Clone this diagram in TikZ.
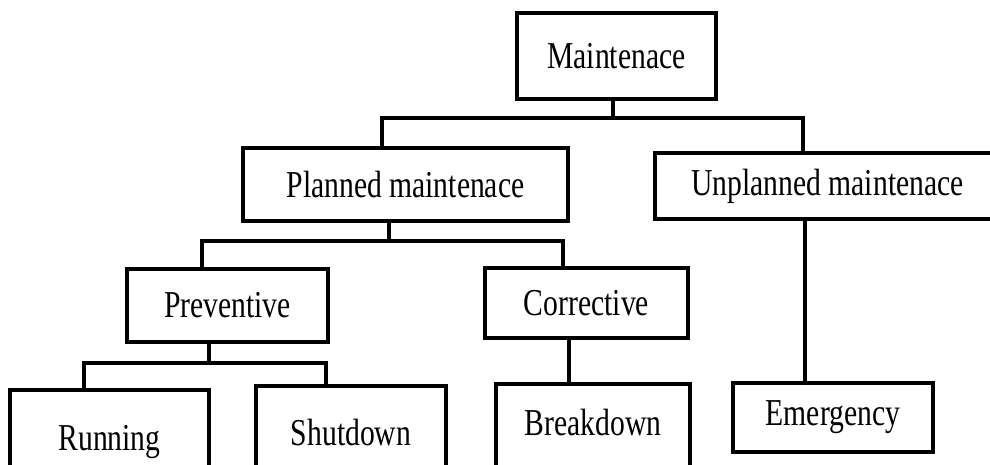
\documentclass[tikz,border=0pt]{standalone}
\usepackage{fontspec}
\setmainfont{Liberation Serif}[FakeStretch=0.78]
\usepackage{tikz}

\tikzset{
  box/.style={draw, line width=4.3pt, inner sep=0pt, font=\fontsize{38}{42}\selectfont},
  link/.style={line width=4.3pt},
}

\begin{document}
\begin{tikzpicture}[x=1pt,y=-1pt]
    \useasboundingbox (0,0) rectangle (990,464);
    % boxes
    \node[box, minimum width=199pt, minimum height=86pt] (main) at (616.5,56) {Maintenace};
    \node[box, minimum width=325pt, minimum height=73pt] (planned) at (405.5,184.5) {Planned maintenace};
    \node[box, minimum width=345pt, minimum height=66pt] (unplanned) at (827.5,186) {Unplanned maintenace};
    \node[box, minimum width=201pt, minimum height=73pt] (preventive) at (227.5,305.5) {Preventive};
    \node[box, minimum width=203pt, minimum height=70pt] (corrective) at (586.5,303) {Corrective};
    \node[box, minimum width=200pt, minimum height=69pt] (emergency) at (833,417.5) {Emergency};
    \node[box, anchor=north, minimum width=199pt, text height=60pt, text depth=40pt] (running) at (109.5,388) {Running};
    \node[box, anchor=north, minimum width=190pt, text height=59pt, text depth=45pt] (shutdown) at (351,384) {Shutdown};
    \node[box, anchor=north, minimum width=194pt, text height=51pt, text depth=55pt] (breakdown) at (593,382) {Breakdown};
    % junctions
    \coordinate (bus1) at (613,118);
    \coordinate (bus2) at (389,241);
    \coordinate (bus3) at (209,363);
    % connectors
    \draw[link] (main.south -| bus1) -- (bus1);
    \draw[link] ([xshift=-23.5pt]planned.north) |- (bus1) -| ([xshift=-24.5pt]unplanned.north);
    \draw[link] (planned.south -| bus2) -- (bus2);
    \draw[link] ([xshift=-25.5pt]preventive.north) |- (bus2) -| ([xshift=-23.5pt]corrective.north);
    \draw[link] (preventive.south -| bus3) -- (bus3);
    \draw[link] ([xshift=-25.5pt]running.north) |- (bus3) -| ([xshift=-25pt]shutdown.north);
    \draw[link] ([xshift=-17.5pt]corrective.south) -- ([xshift=-24pt]breakdown.north);
    \draw[link] ([xshift=-22.5pt]unplanned.south) -- ([xshift=-28pt]emergency.north);
\end{tikzpicture}
\end{document}
